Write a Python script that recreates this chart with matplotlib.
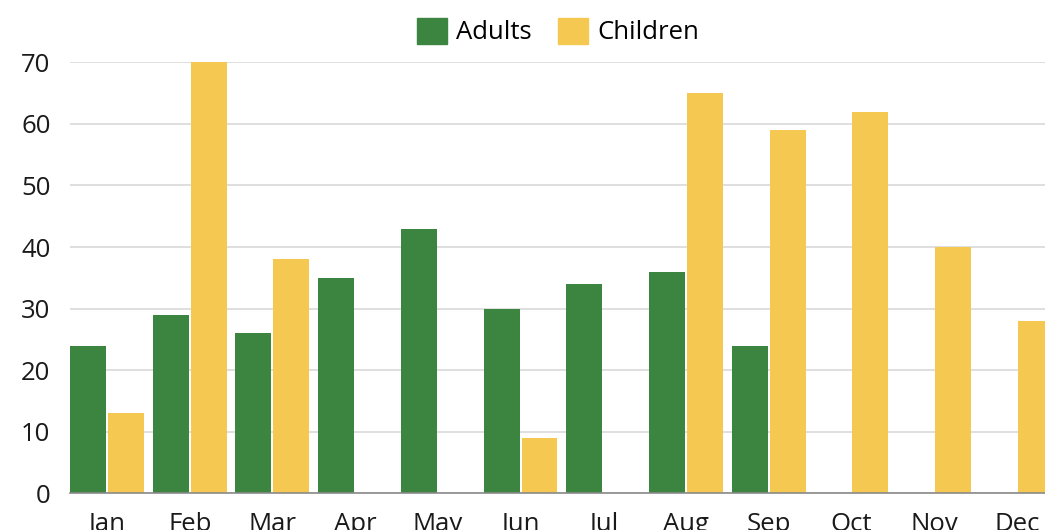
import numpy as np
import matplotlib
matplotlib.use('Agg')
from matplotlib import pyplot as plt
from matplotlib.patches import Patch

months = ['Jan', 'Feb', 'Mar', 'Apr', 'May', 'Jun', 'Jul', 'Aug', 'Sep', 'Oct', 'Nov', 'Dec']
adults = [24, 29, 26, 35, 43, 30, 34, 36, 24, 0, 0, 0]
children = [13, 70, 38, 0, 0, 9, 0, 65, 59, 62, 40, 28]

green = '#3c8540'
yellow = '#f5c951'

plt.rcParams['font.family'] = ['Open Sans', 'DejaVu Sans']

fig = plt.figure(figsize=(10.45, 5.3), dpi=100)
# plot area in pixels: x 70..1045, y 62..493
ax = fig.add_axes([70/1045, (530-493.3)/530, 975/1045, (493.3-62.3)/530])

x = np.arange(len(months))
w = 0.435
off = w/2 + 0.012
ax.bar(x - off, adults, w, color=green, zorder=3, clip_on=False)
ax.bar(x + off, children, w, color=yellow, zorder=3, clip_on=False)

ax.set_xlim(-0.4475, 11.342)
ax.set_ylim(0, 70)
ax.set_yticks(range(0, 71, 10))
ax.set_xticks(x)
ax.set_xticklabels(months)

ax.grid(axis='y', color='#d9d9d9', linewidth=1.2, zorder=0)
for s in ['top', 'right', 'left']:
    ax.spines[s].set_visible(False)
ax.spines['bottom'].set_color('#8a8a8a')
ax.spines['bottom'].set_linewidth(1.2)
ax.spines['bottom'].set_zorder(4)
ax.tick_params(axis='both', length=0, labelsize=18.5, colors='#1a1a1a')
ax.tick_params(axis='y', pad=14)   # pad is in points
ax.tick_params(axis='x', pad=13.5)

handles = [Patch(color=green, label='Adults'), Patch(color=yellow, label='Children')]
fig.legend(handles=handles, loc='center', bbox_to_anchor=(558/1045, 1 - 31.5/530), ncol=2,
           frameon=False, fontsize=18.5, handlelength=1.17, handleheight=1.17,
           handletextpad=0.38, columnspacing=1.0)

plt.savefig('out.png', dpi=100)
